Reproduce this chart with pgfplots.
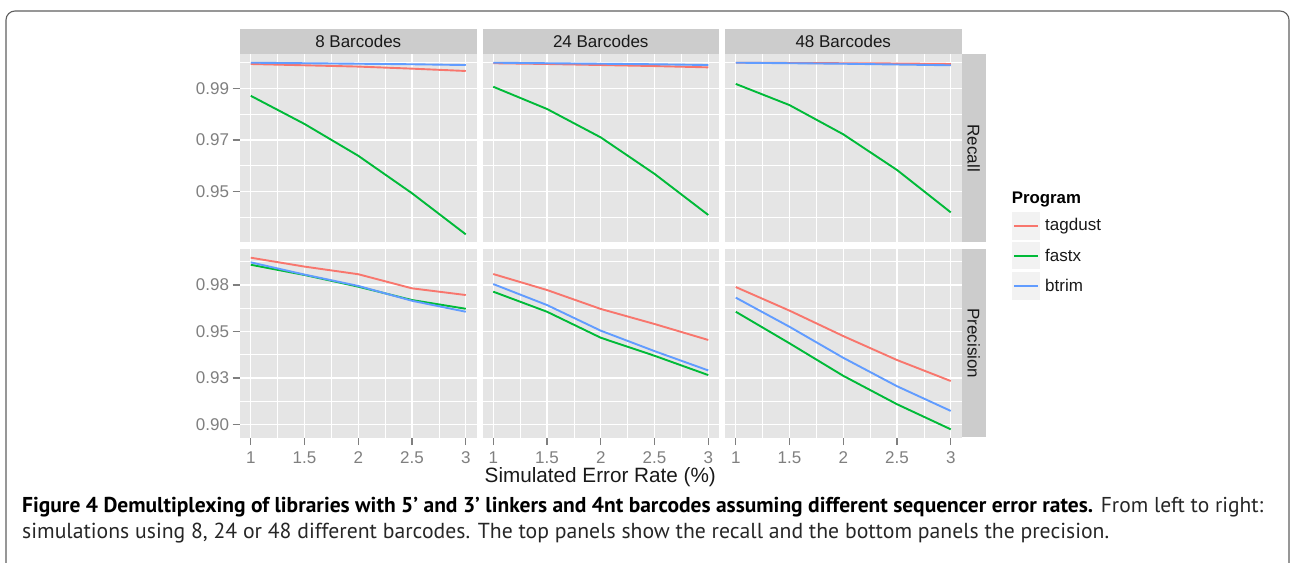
\documentclass[border=0pt]{standalone}
\usepackage{fontspec}
\setmainfont{Liberation Sans}
\newfontfamily\capfont{PT Sans}
\usepackage{pgfplots}
\pgfplotsset{compat=1.18}
\definecolor{tagc}{HTML}{F8766D}
\definecolor{fasc}{HTML}{00BA38}
\definecolor{btrc}{HTML}{619CFF}
\definecolor{panelbg}{HTML}{E5E5E5}
\definecolor{stripbg}{HTML}{CCCCCC}
\definecolor{keybg}{HTML}{F2F2F2}
\definecolor{tickgray}{HTML}{7F7F7F}
\definecolor{framec}{HTML}{606060}
\pgfplotsset{
  panel/.style={scale only axis, width=236.5pt, height=188.5pt,
    xmin=0.9, xmax=3.1, axis background/.style={fill=panelbg},
    axis line style={draw=none},
    xtick={1,1.5,2,2.5,3}, xticklabels={1,1.5,2,2.5,3},
    minor xtick={1.25,1.75,2.25,2.75},
    xmajorgrids, xminorgrids, ymajorgrids, yminorgrids,
    major grid style={white, line width=1.4pt},
    minor grid style={white, line width=0.7pt},
    tick align=outside, tick pos=left, major tick length=7.5pt, minor tick length=0pt,
    tick style={tickgray, line width=1.4pt},
    ticklabel style={font=\fontsize{17}{20}\selectfont, text=tickgray},
    xticklabel style={yshift=-3pt},
    anchor=north west},
  recall/.style={ymin=0.93035, ymax=1.00327, ytick={0.95,0.97,0.99},
    yticklabels={0.95,0.97,0.99}, minor ytick={0.94,0.96,0.98,1.00},
    xticklabels={}, xtick style={draw=none}},
  precision/.style={ymin=0.89289, ymax=0.99438, ytick={0.9,0.925,0.95,0.975},
    yticklabels={0.90,0.93,0.95,0.98}, minor ytick={0.9125,0.9375,0.9625,0.9875}},
  inner/.style={yticklabels={}, ytick style={draw=none}},
  tg/.style={draw=tagc, line width=1.9pt, no markers},
  fx/.style={draw=fasc, line width=1.9pt, no markers},
  bt/.style={draw=btrc, line width=1.9pt, no markers},
}
\begin{document}
\begin{tikzpicture}[x=1pt,y=1pt]
\path[use as bounding box] (0,0) rectangle (1292,562);
% frame
\draw[framec, line width=1.1pt, rounded corners=9pt] (6,-5) -- (6,551) -- (1289,551) -- (1289,-5);
% ---------- Recall row ----------
\begin{axis}[panel, recall, at={(240pt,508pt)}]
\addplot[tg] coordinates {(1,0.9994) (1.5,0.9989) (2,0.9984) (2.5,0.9976) (3,0.9967)};
\addplot[fx] coordinates {(1,0.9871) (1.5,0.9762) (2,0.9639) (2.5,0.9494) (3,0.9335)};
\addplot[bt] coordinates {(1,0.9999) (1.5,0.9997) (2,0.9995) (2.5,0.9993) (3,0.9990)};
\end{axis}
\begin{axis}[panel, recall, inner, at={(482.5pt,508pt)}]
\addplot[tg] coordinates {(1,0.9997) (1.5,0.9994) (2,0.9990) (2.5,0.9986) (3,0.9981)};
\addplot[fx] coordinates {(1,0.9906) (1.5,0.9820) (2,0.9710) (2.5,0.9569) (3,0.9410)};
\addplot[bt] coordinates {(1,0.9999) (1.5,0.9997) (2,0.9995) (2.5,0.9993) (3,0.9990)};
\end{axis}
\begin{axis}[panel, recall, inner, at={(725pt,508pt)}]
\addplot[tg] coordinates {(1,0.9999) (1.5,0.9998) (2,0.9997) (2.5,0.9996) (3,0.9994)};
\addplot[fx] coordinates {(1,0.9917) (1.5,0.9835) (2,0.9722) (2.5,0.9584) (3,0.9420)};
\addplot[bt] coordinates {(1,0.9999) (1.5,0.9997) (2,0.9995) (2.5,0.9992) (3,0.9989)};
\end{axis}
% ---------- Precision row ----------
\begin{axis}[panel, precision, at={(240pt,313pt)}]
\addplot[tg] coordinates {(1,0.9897) (1.5,0.9849) (2,0.9808) (2.5,0.9732) (3,0.9696)};
\addplot[fx] coordinates {(1,0.9859) (1.5,0.9804) (2,0.9741) (2.5,0.9669) (3,0.9622)};
\addplot[bt] coordinates {(1,0.9872) (1.5,0.9806) (2,0.9745) (2.5,0.9665) (3,0.9606)};
\end{axis}
\begin{axis}[panel, precision, inner, at={(482.5pt,313pt)}]
\addplot[tg] coordinates {(1,0.9809) (1.5,0.9723) (2,0.9621) (2.5,0.9540) (3,0.9454)};
\addplot[fx] coordinates {(1,0.9714) (1.5,0.9606) (2,0.9466) (2.5,0.9369) (3,0.9265)};
\addplot[bt] coordinates {(1,0.9755) (1.5,0.9642) (2,0.9504) (2.5,0.9394) (3,0.9290)};
\end{axis}
\begin{axis}[panel, precision, inner, at={(725pt,313pt)}]
\addplot[tg] coordinates {(1,0.9739) (1.5,0.9612) (2,0.9475) (2.5,0.9346) (3,0.9233)};
\addplot[fx] coordinates {(1,0.9606) (1.5,0.9436) (2,0.9261) (2.5,0.9108) (3,0.8973)};
\addplot[bt] coordinates {(1,0.9682) (1.5,0.9525) (2,0.9358) (2.5,0.9205) (3,0.9072)};
\end{axis}
% strips
\begin{scope}[every node/.style={font=\fontsize{17}{20}\selectfont, text=black!90}]
\fill[stripbg] (240,508) rectangle (476.5,533); \node at (358.25,520.5) {8 Barcodes};
\fill[stripbg] (482.5,508) rectangle (719,533); \node at (600.75,520.5) {24 Barcodes};
\fill[stripbg] (725,508) rectangle (961.5,533); \node at (843.25,520.5) {48 Barcodes};
\fill[stripbg] (961.5,508) rectangle (985.7,319.5); \node[rotate=-90] at (973.6,413.75) {Recall};
\fill[stripbg] (961.5,313) rectangle (985.7,124.5); \node[rotate=-90] at (973.6,218.75) {Precision};
\end{scope}
% x label
\node[font=\fontsize{20.7}{24}\selectfont, text=black!90] at (600.3,85) {Simulated Error Rate (\%)};
% legend
\node[anchor=west, inner sep=0pt, font=\bfseries\fontsize{16.8}{20}\selectfont] at (1011.7,362) {Program};
\begin{scope}
\fill[keybg] (1011.7,349.7) rectangle (1040,322);
\end{scope}
\begin{scope}
\fill[keybg] (1011.7,320.3) rectangle (1040,292.7);
\end{scope}
\begin{scope}
\fill[keybg] (1011.7,290.3) rectangle (1040,262);
\end{scope}
\begin{scope}
\fill[fill=tagc] (1014,335.05) rectangle (1038,336.95);
\end{scope}
\begin{scope}
\fill[fill=fasc] (1014,305.35) rectangle (1038,307.25);
\end{scope}
\begin{scope}
\fill[fill=btrc] (1014,275.35) rectangle (1038,277.25);
\end{scope}
\begin{scope}[every node/.style={anchor=west, inner sep=0pt, font=\fontsize{17}{20}\selectfont, text=black!90}]
\node at (1045,336) {tagdust};
\node at (1045,306.3) {fastx};
\node at (1045,276.3) {btrim};
\end{scope}
% caption
\node[anchor=base west, inner sep=0pt, font=\capfont\fontsize{21.5}{26}\selectfont] at (22,50)
  {\textbf{Figure 4 Demultiplexing of libraries with 5\textquoteright\ and 3\textquoteright\ linkers and 4nt barcodes assuming different sequencer error rates.} {\color{black!85}From left to right:}};
\node[anchor=base west, inner sep=0pt, font=\capfont\fontsize{21.7}{26}\selectfont, text=black!85] at (22,24)
  {simulations using 8, 24 or 48 different barcodes. The top panels show the recall and the bottom panels the precision.};
\end{tikzpicture}
\end{document}
